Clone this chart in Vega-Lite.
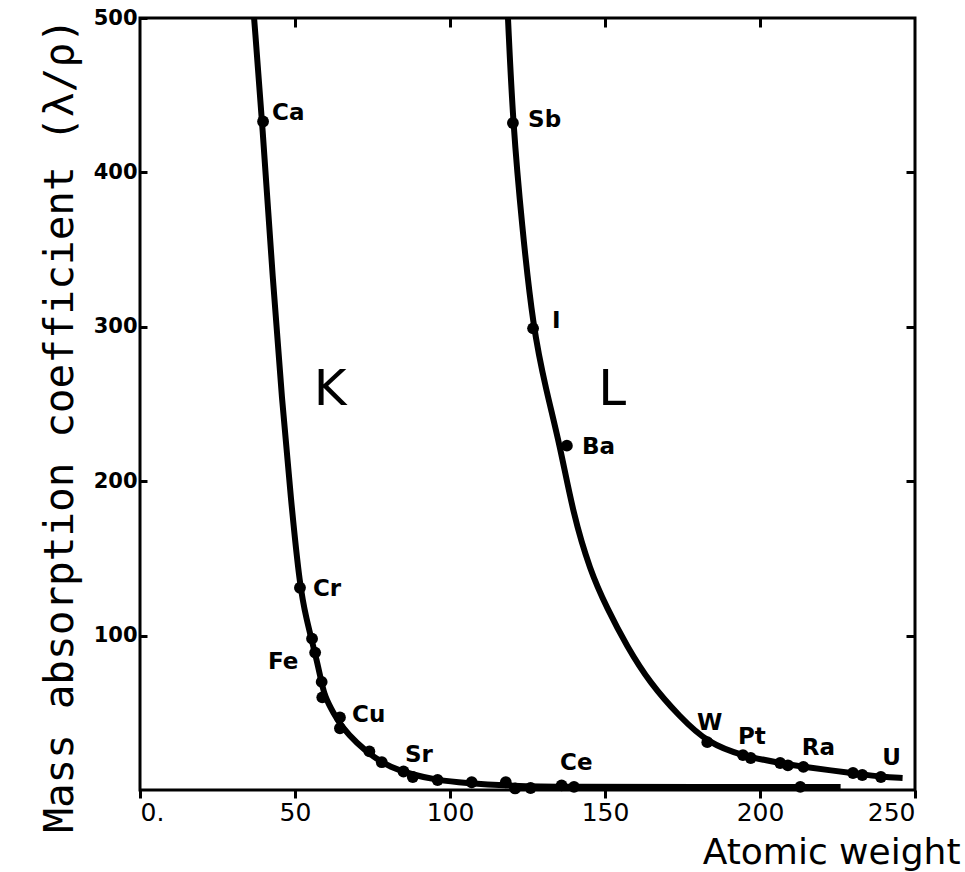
{
  "$schema": "https://vega.github.io/schema/vega-lite/v6.json",
  "autosize": "none",
  "padding": {"left": 140, "top": 18, "right": 50, "bottom": 82},
  "width": 775,
  "height": 772,
  "background": "white",
  "config": {
    "view": {"stroke": "black", "strokeWidth": 3},
    "font": "DejaVu Sans",
    "axis": {"grid": false, "domain": false, "tickColor": "black", "tickWidth": 3, "labelColor": "black", "titleColor": "black"}
  },
  "resolve": {"axis": {"x": "independent", "y": "independent"}},
  "datasets": {
    "curves": [
      {"series": "K", "w": 36.8, "mu": 500},
      {"series": "K", "w": 39.4, "mu": 433.7},
      {"series": "K", "w": 42.9, "mu": 328.2},
      {"series": "K", "w": 45.8, "mu": 252.4},
      {"series": "K", "w": 48.7, "mu": 187.7},
      {"series": "K", "w": 51.6, "mu": 130.7},
      {"series": "K", "w": 53.8, "mu": 110},
      {"series": "K", "w": 55.4, "mu": 97},
      {"series": "K", "w": 57, "mu": 84.1},
      {"series": "K", "w": 58.6, "mu": 69.3},
      {"series": "K", "w": 59.7, "mu": 60.2},
      {"series": "K", "w": 62.4, "mu": 49.8},
      {"series": "K", "w": 65.1, "mu": 40.8},
      {"series": "K", "w": 69.9, "mu": 30.4},
      {"series": "K", "w": 75.3, "mu": 21.4},
      {"series": "K", "w": 80.6, "mu": 14.9},
      {"series": "K", "w": 88.2, "mu": 9.7},
      {"series": "K", "w": 95.7, "mu": 6.5},
      {"series": "K", "w": 104.3, "mu": 4.5},
      {"series": "K", "w": 120.4, "mu": 2.6},
      {"series": "K", "w": 136.5, "mu": 2},
      {"series": "K", "w": 180, "mu": 2},
      {"series": "K", "w": 226, "mu": 2},
      {"series": "L", "w": 118.7, "mu": 500},
      {"series": "L", "w": 120.3, "mu": 431.7},
      {"series": "L", "w": 123.2, "mu": 365.7},
      {"series": "L", "w": 126.8, "mu": 299},
      {"series": "L", "w": 131, "mu": 259},
      {"series": "L", "w": 135.5, "mu": 223},
      {"series": "L", "w": 139.7, "mu": 179},
      {"series": "L", "w": 145.2, "mu": 142},
      {"series": "L", "w": 150.6, "mu": 118},
      {"series": "L", "w": 157.1, "mu": 92.9},
      {"series": "L", "w": 164.5, "mu": 69.3},
      {"series": "L", "w": 174.2, "mu": 47.2},
      {"series": "L", "w": 183.2, "mu": 30.4},
      {"series": "L", "w": 194.5, "mu": 22},
      {"series": "L", "w": 206.5, "mu": 17.5},
      {"series": "L", "w": 213.9, "mu": 14.9},
      {"series": "L", "w": 230, "mu": 11},
      {"series": "L", "w": 239.4, "mu": 8.4},
      {"series": "L", "w": 246, "mu": 7.8}
    ],
    "dots": [
      {"w": 39.7, "mu": 433}, {"w": 51.6, "mu": 131}, {"w": 55.5, "mu": 98},
      {"w": 56.5, "mu": 89}, {"w": 58.6, "mu": 70}, {"w": 58.8, "mu": 60},
      {"w": 64.5, "mu": 47}, {"w": 64.5, "mu": 40}, {"w": 74, "mu": 25},
      {"w": 78, "mu": 18}, {"w": 85, "mu": 12}, {"w": 88, "mu": 8.4},
      {"w": 96, "mu": 6.5}, {"w": 107, "mu": 5}, {"w": 118, "mu": 5},
      {"w": 121, "mu": 1}, {"w": 126, "mu": 1.3}, {"w": 136, "mu": 3},
      {"w": 140, "mu": 2}, {"w": 213, "mu": 2},
      {"w": 120.3, "mu": 432}, {"w": 126.8, "mu": 299}, {"w": 137.7, "mu": 223},
      {"w": 183, "mu": 31}, {"w": 194.5, "mu": 22.6}, {"w": 197, "mu": 20.7},
      {"w": 206.5, "mu": 17.5}, {"w": 209, "mu": 16}, {"w": 214, "mu": 15},
      {"w": 230, "mu": 11}, {"w": 233, "mu": 9.7}, {"w": 239, "mu": 8.4}
    ],
    "labels": [
      {"name": "Ca", "w": 42.6, "mu": 438.2},
      {"name": "Sb", "w": 125.2, "mu": 433.7},
      {"name": "I", "w": 132.9, "mu": 303.6},
      {"name": "Ba", "w": 142.6, "mu": 221.9},
      {"name": "Cr", "w": 55.8, "mu": 130.1},
      {"name": "Fe", "w": 41.3, "mu": 82.8},
      {"name": "Cu", "w": 68.4, "mu": 48.5},
      {"name": "Sr", "w": 85.5, "mu": 22.7},
      {"name": "Ce", "w": 135.5, "mu": 17.5},
      {"name": "W", "w": 179.7, "mu": 43.4},
      {"name": "Pt", "w": 192.9, "mu": 34.3},
      {"name": "Ra", "w": 213.5, "mu": 27.2},
      {"name": "U", "w": 239.4, "mu": 20.7}
    ],
    "series": [
      {"name": "K", "w": 61.3, "mu": 259},
      {"name": "L", "w": 152.3, "mu": 259}
    ]
  },
  "layer": [
    {
      "data": {"name": "curves"},
      "mark": {"type": "line", "interpolate": "basis", "color": "black", "strokeWidth": 6, "clip": true},
      "encoding": {
        "x": {"field": "w", "type": "quantitative", "scale": {"domain": [0, 250], "nice": false},
          "axis": {"values": [0, 50, 100, 150, 200, 250], "labelExpr": "datum.value == 0 ? '0.' : datum.label", "labelFontSize": 25, "labelPadding": 2, "tickSize": 8,
            "title": "Atomic weight", "titleFontSize": 36, "titleFontWeight": "normal", "titleX": 820, "titleY": 62, "titleAlign": "right", "titleBaseline": "middle"}},
        "y": {"field": "mu", "type": "quantitative", "scale": {"domain": [0, 500], "nice": false},
          "axis": {"values": [100, 200, 300, 400, 500], "labelFontSize": 21, "labelFontWeight": "bold", "labelPadding": 10, "tickSize": -7,
            "title": "Mass absorption coefficient (λ/ρ)", "titleFont": "DejaVu Sans Mono", "titleFontSize": 41, "titleFontWeight": "normal", "titleX": -80, "titleY": 407, "titleAngle": -90, "titleAlign": "center", "titleBaseline": "middle"}},
        "detail": {"field": "series"}
      }
    },
    {
      "data": {"name": "dots"},
      "mark": {"type": "circle", "color": "black", "opacity": 1, "size": 140},
      "encoding": {
        "x": {"field": "w", "type": "quantitative", "axis": {"orient": "top", "values": [50, 100, 150, 200], "labels": false, "tickSize": -9, "title": null}},
        "y": {"field": "mu", "type": "quantitative", "axis": {"orient": "right", "values": [100, 200, 300, 400], "labels": false, "tickSize": -9, "title": null}}
      }
    },
    {
      "data": {"name": "labels"},
      "mark": {"type": "text", "fontSize": 23, "fontWeight": "bold", "color": "black", "align": "left", "baseline": "middle"},
      "encoding": {
        "x": {"field": "w", "type": "quantitative", "axis": null},
        "y": {"field": "mu", "type": "quantitative", "axis": null},
        "text": {"field": "name"}
      }
    },
    {
      "data": {"name": "series"},
      "mark": {"type": "text", "fontSize": 50, "color": "black", "align": "center", "baseline": "middle"},
      "encoding": {
        "x": {"field": "w", "type": "quantitative", "axis": null},
        "y": {"field": "mu", "type": "quantitative", "axis": null},
        "text": {"field": "name"}
      }
    }
  ]
}
